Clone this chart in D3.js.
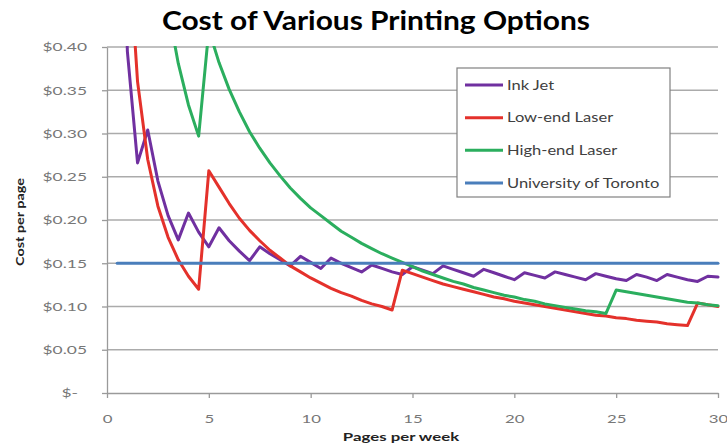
<!DOCTYPE html>
<html>
<head>
<meta charset="utf-8">
<script src="https://cdn.jsdelivr.net/npm/d3@7"></script>
<style>
  body { margin: 0; background: #fff; }
  text { font-family: Lato, "Open Sans", sans-serif; }
</style>
</head>
<body>
<svg id="chart" width="727" height="445"></svg>
<script>
// Pages printed per week (x) and cost per page for each option
const pages = [0.5, 1, 1.5, 2, 2.5, 3, 3.5, 4, 4.5, 5, 5.5, 6, 6.5, 7, 7.5, 8, 8.5, 9, 9.5, 10,
  10.5, 11, 11.5, 12, 12.5, 13, 13.5, 14, 14.5, 15, 15.5, 16, 16.5, 17, 17.5, 18, 18.5, 19, 19.5, 20,
  20.5, 21, 21.5, 22, 22.5, 23, 23.5, 24, 24.5, 25, 25.5, 26, 26.5, 27, 27.5, 28, 28.5, 29, 29.5, 30];

const inkJet = [0.80, 0.395, 0.266, 0.304, 0.245, 0.205, 0.177, 0.208, 0.186, 0.169,
  0.191, 0.176, 0.164, 0.153, 0.169, 0.161, 0.154, 0.147, 0.158, 0.151,
  0.144, 0.156, 0.150, 0.145, 0.140, 0.148, 0.144, 0.140, 0.137, 0.146,
  0.142, 0.138, 0.147, 0.143, 0.139, 0.135, 0.143, 0.139, 0.135, 0.131,
  0.139, 0.136, 0.133, 0.140, 0.137, 0.134, 0.131, 0.138, 0.135, 0.132,
  0.130, 0.137, 0.134, 0.130, 0.137, 0.134, 0.131, 0.129, 0.135, 0.134];

const lowEndLaser = [1.08, 0.54, 0.36, 0.27, 0.216, 0.18, 0.154, 0.135, 0.12, 0.257,
  0.238, 0.219, 0.202, 0.188, 0.176, 0.165, 0.156, 0.147, 0.140, 0.133,
  0.127, 0.121, 0.116, 0.112, 0.107, 0.103, 0.100, 0.096, 0.142, 0.138,
  0.134, 0.130, 0.126, 0.123, 0.120, 0.117, 0.114, 0.111, 0.109, 0.106,
  0.104, 0.102, 0.100, 0.098, 0.096, 0.094, 0.092, 0.090, 0.089, 0.087,
  0.086, 0.084, 0.083, 0.082, 0.080, 0.079, 0.078, 0.104, 0.102, 0.100];

const highEndLaser = [2.667, 1.333, 0.889, 0.667, 0.533, 0.444, 0.381, 0.333, 0.297, 0.420,
  0.382, 0.351, 0.325, 0.302, 0.283, 0.266, 0.251, 0.237, 0.225, 0.214,
  0.205, 0.196, 0.187, 0.180, 0.173, 0.167, 0.161, 0.156, 0.151, 0.146,
  0.141, 0.137, 0.133, 0.129, 0.126, 0.122, 0.119, 0.116, 0.113, 0.111,
  0.108, 0.106, 0.103, 0.101, 0.099, 0.097, 0.095, 0.094, 0.092, 0.119,
  0.117, 0.115, 0.113, 0.111, 0.109, 0.107, 0.105, 0.104, 0.102, 0.101];

const uofT = [0.15, 0.15, 0.15, 0.15, 0.15, 0.15, 0.15, 0.15, 0.15, 0.15,
  0.15, 0.15, 0.15, 0.15, 0.15, 0.15, 0.15, 0.15, 0.15, 0.15,
  0.15, 0.15, 0.15, 0.15, 0.15, 0.15, 0.15, 0.15, 0.15, 0.15,
  0.15, 0.15, 0.15, 0.15, 0.15, 0.15, 0.15, 0.15, 0.15, 0.15,
  0.15, 0.15, 0.15, 0.15, 0.15, 0.15, 0.15, 0.15, 0.15, 0.15,
  0.15, 0.15, 0.15, 0.15, 0.15, 0.15, 0.15, 0.15, 0.15, 0.15];

const seriesNames = ["Ink Jet", "Low-end Laser", "High-end Laser", "University of Toronto"];
const seriesColors = ["#7030A0", "#E4312B", "#2BAE5E", "#4A7EBB"];
const seriesValues = [inkJet, lowEndLaser, highEndLaser, uofT];

const yTickValues = [0, 0.05, 0.10, 0.15, 0.20, 0.25, 0.30, 0.35, 0.40];
const yTickLabels = ["$-", "$0.05", "$0.10", "$0.15", "$0.20", "$0.25", "$0.30", "$0.35", "$0.40"];
const xTickValues = [0, 5, 10, 15, 20, 25, 30];
const xTickLabels = ["0", "5", "10", "15", "20", "25", "30"];

const svg = d3.select("#chart");
const plot = { left: 107, right: 718, top: 47, bottom: 393 };

const x = d3.scaleLinear().domain([0, 30]).range([plot.left, plot.right]);
const y = d3.scaleLinear().domain([0, 0.40]).range([plot.bottom, plot.top]);

// Widen glyphs horizontally by a factor, keeping the text anchor in place
function widen(sel, factor) {
  sel.each(function () {
    const w = this.getComputedTextLength();
    d3.select(this)
      .attr("textLength", w * factor)
      .attr("lengthAdjust", "spacingAndGlyphs");
  });
}

// Title
svg.append("text")
  .attr("x", 376).attr("y", 30)
  .attr("text-anchor", "middle")
  .attr("font-size", 26).attr("font-weight", 700)
  .attr("fill", "#000")
  .text("Cost of Various Printing Options")
  .call(widen, 1.15);

// Horizontal gridlines
svg.append("g")
  .selectAll("line")
  .data(yTickValues.filter(v => v > 0))
  .join("line")
  .attr("x1", plot.left).attr("x2", plot.right)
  .attr("y1", d => y(d)).attr("y2", d => y(d))
  .attr("stroke", "#ABABAB").attr("stroke-width", 1.3);

// Y axis
const yAxis = svg.append("g")
  .attr("transform", `translate(${plot.left},0)`)
  .call(d3.axisLeft(y).tickValues(yTickValues)
    .tickFormat((d, i) => yTickLabels[i]).tickSize(5).tickPadding(15).tickSizeOuter(0));
yAxis.select(".domain").attr("stroke", "#9A9A9A").attr("stroke-width", 1.3);
yAxis.selectAll(".tick line").attr("stroke", "#9A9A9A").attr("stroke-width", 1.3);
yAxis.selectAll(".tick text")
  .attr("font-size", 12).attr("fill", "#777")
  .attr("x", d => d === 0 ? -29 : -20)
  .call(widen, 1.45);

// X axis
const xAxis = svg.append("g")
  .attr("transform", `translate(0,${plot.bottom})`)
  .call(d3.axisBottom(x).tickValues(xTickValues)
    .tickFormat((d, i) => xTickLabels[i]).tickSize(5).tickPadding(16).tickSizeOuter(0));
xAxis.select(".domain").attr("stroke", "#9A9A9A").attr("stroke-width", 1.3);
xAxis.selectAll(".tick line").attr("stroke", "#9A9A9A").attr("stroke-width", 1.3);
xAxis.selectAll(".tick text").attr("font-size", 12).attr("fill", "#777")
  .call(widen, 1.4);

// Axis titles
svg.append("text")
  .attr("x", 401).attr("y", 441)
  .attr("text-anchor", "middle")
  .attr("font-size", 12).attr("font-weight", 700).attr("fill", "#222")
  .text("Pages per week")
  .call(widen, 1.4);

svg.append("text")
  .attr("transform", "translate(24,222) rotate(-90)")
  .attr("text-anchor", "middle")
  .attr("font-size", 12).attr("font-weight", 700).attr("fill", "#222")
  .text("Cost per page")
  .call(widen, 1.2);

// Plot-area clip so lines stop at the $0.40 ceiling
svg.append("clipPath").attr("id", "plot-clip")
  .append("rect")
  .attr("x", plot.left).attr("y", plot.top - 1)
  .attr("width", plot.right - plot.left + 4).attr("height", plot.bottom - plot.top + 2);

const line = d3.line()
  .x(d => x(d[0]))
  .y(d => y(d[1]));

svg.append("g")
  .attr("clip-path", "url(#plot-clip)")
  .selectAll("path")
  .data(seriesValues.map((vals, i) => ({ i, pts: pages.map((p, k) => [p, vals[k]]) })))
  .join("path")
  .attr("d", d => line(d.pts))
  .attr("fill", "none")
  .attr("stroke", d => seriesColors[d.i])
  .attr("stroke-width", 3)
  .attr("stroke-linejoin", "round")
  .attr("stroke-linecap", "round");

// Legend
const legend = svg.append("g");
legend.append("rect")
  .attr("x", 457).attr("y", 68).attr("width", 213).attr("height", 129)
  .attr("fill", "#fff").attr("stroke", "#808080").attr("stroke-width", 1.2);

const legendRowY = d3.scalePoint().domain(seriesNames).range([85, 183]);
const rows = legend.selectAll("g.row")
  .data(seriesNames)
  .join("g").attr("class", "row")
  .attr("transform", d => `translate(0,${legendRowY(d)})`);
rows.append("line")
  .attr("x1", 465).attr("x2", 503)
  .attr("stroke", (d, i) => seriesColors[i]).attr("stroke-width", 3);
rows.append("text")
  .attr("x", 507).attr("dy", "0.36em")
  .attr("font-size", 13).attr("fill", "#404040")
  .text(d => d)
  .call(widen, 1.27);
</script>
</body>
</html>
